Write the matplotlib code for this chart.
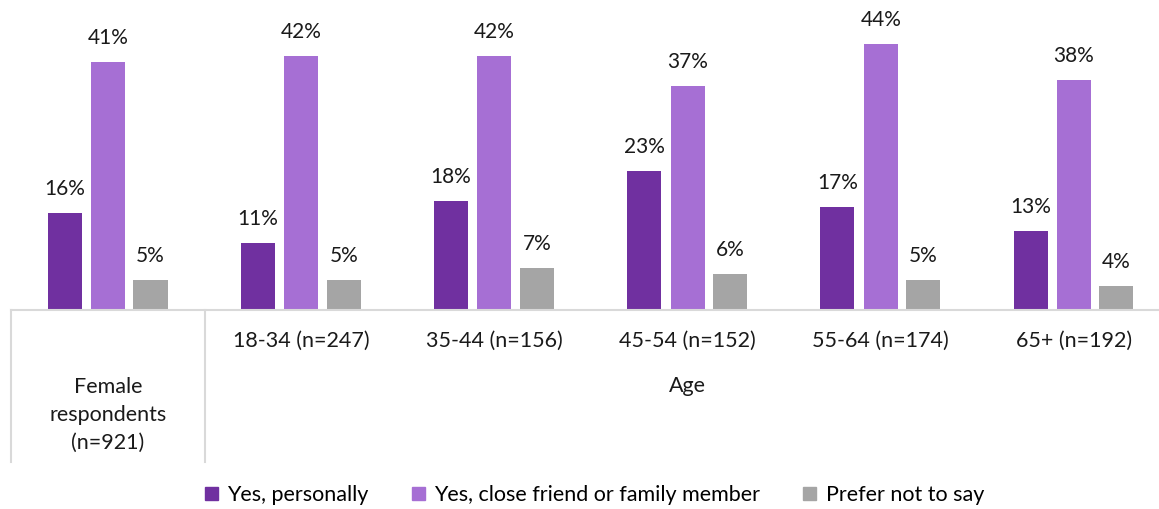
import numpy as np
import matplotlib.pyplot as plt
from matplotlib.patches import Patch
from matplotlib.lines import Line2D

plt.rcParams['font.family'] = ['Lato', 'DejaVu Sans']

## data
groups = ['Female\nrespondents\n(n=921)', '18-34 (n=247)', '35-44 (n=156)',
          '45-54 (n=152)', '55-64 (n=174)', '65+ (n=192)']
series = ['Yes, personally', 'Yes, close friend or family member', 'Prefer not to say']
personally = [16, 11, 18, 23, 17, 13]
friend_family = [41, 42, 42, 37, 44, 38]
prefer_not = [5, 5, 7, 6, 5, 4]
colors = ['#7030A0', '#A66FD4', '#A5A5A5']
outer_label = 'Age'

values = [personally, friend_family, prefer_not]
x = np.arange(len(groups))
width = 0.176
offsets = [-0.225, 0, 0.22]
txt_c = '#1a1a1a'

fig = plt.figure(figsize=(11.59, 5.09), dpi=100)
ax = fig.add_axes([0.0095, 0.391, 0.9905, 0.609])

for vals, off, c in zip(values, offsets, colors):
    bars = ax.bar(x + off, vals, width, color=c)
    for b, v in zip(bars, vals):
        ax.annotate(f'{v}%', (b.get_x() + b.get_width() / 2, v),
                    xytext=(0, 10), textcoords='offset points',
                    ha='center', va='bottom', fontsize=15, color=txt_c)

ax.set_xlim(-0.502, 5.44)
ax.set_ylim(0, 51.2)
ax.axis('off')

# category axis drawn by hand (two levels)
grid_c = '#D9D9D9'
trans = ax.get_xaxis_transform()
ax.add_line(Line2D([-0.502, 5.44], [0, 0], color=grid_c, lw=1.5,
                   transform=trans, clip_on=False))
for xv in [-0.502, 0.5]:
    ax.add_line(Line2D([xv, xv], [0, -0.49], color=grid_c, lw=1.5,
                       transform=trans, clip_on=False))

def ypos(px):
    return (310 - px) / 310

ax.text(x[0], ypos(415), groups[0], transform=trans, ha='center', va='center',
        fontsize=15.5, linespacing=1.5, color=txt_c)
for i in range(1, len(groups)):
    ax.text(x[i], ypos(341), groups[i], transform=trans, ha='center',
            va='center', fontsize=15.5, color=txt_c)
ax.text((x[1] + x[-1]) / 2, ypos(386), outer_label, transform=trans,
        ha='center', va='center', fontsize=15.5, color=txt_c)

handles = [Patch(color=c, label=s) for c, s in zip(colors, series)]
fig.legend(handles=handles, loc='center', bbox_to_anchor=(0.513, 1 - 495 / 509),
           ncol=3, frameon=False, fontsize=15.5, handlelength=0.6,
           handleheight=0.6, handletextpad=0.45, columnspacing=2.0)

fig.savefig('out.png', dpi=100)
